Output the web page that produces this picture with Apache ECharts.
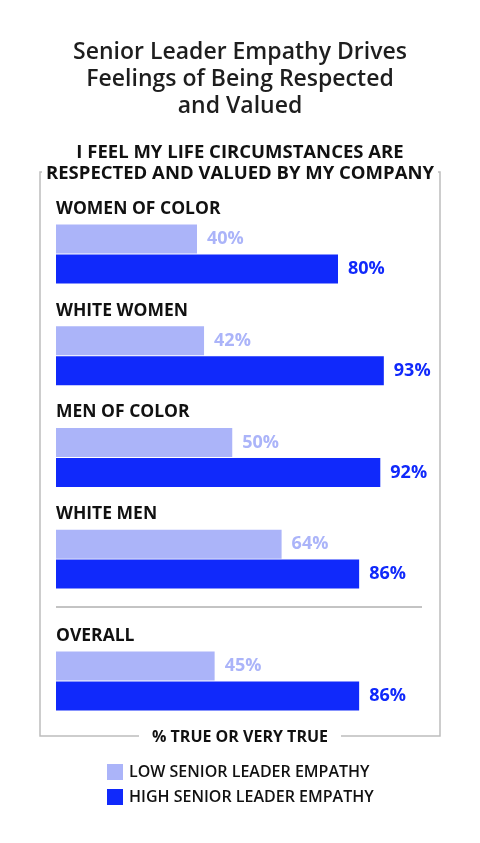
<!DOCTYPE html>
<html>
<head>
<meta charset="utf-8">
<script src="https://cdn.jsdelivr.net/npm/echarts@6/dist/echarts.min.js"></script>
<style>
  html, body { margin: 0; padding: 0; background: #fff; }
  #chart { width: 480px; height: 843px; }
</style>
</head>
<body>
<div id="chart"></div>
<script>
// data
const groups = ["WOMEN OF COLOR", "WHITE WOMEN", "MEN OF COLOR", "WHITE MEN"];
const overallGroup = ["OVERALL"];
const lowEmpathy = [40, 42, 50, 64];
const highEmpathy = [80, 93, 92, 86];
const overallLow = [45];
const overallHigh = [86];
const seriesNames = ["LOW SENIOR LEADER EMPATHY", "HIGH SENIOR LEADER EMPATHY"];

const LIGHT = "#abb4f9";
const DARK = "#1029fb";
const FONT = "Open Sans";

const myChart = echarts.init(document.getElementById("chart"));

const valueLabel = (color) => ({
  show: true,
  position: "right",
  distance: 10,
  formatter: "{c}%",
  color: color,
  fontFamily: FONT,
  fontWeight: "bold",
  fontSize: 18
});

// category name sits above its pair of bars
const catAxis = (data, idx) => ({
  type: "category",
  gridIndex: idx,
  data: data,
  inverse: true,
  axisLine: { show: false },
  axisTick: { show: false },
  axisLabel: {
    inside: true,
    align: "left",
    verticalAlign: "middle",
    margin: 0,
    formatter: (v) => "{a|" + v + "}\n{b|}",
    rich: {
      a: { color: "#111", fontFamily: FONT, fontWeight: "bold", fontSize: 17.5, lineHeight: 16 },
      b: { lineHeight: 90 }
    }
  }
});

const valAxis = (idx) => ({
  type: "value",
  gridIndex: idx,
  min: 0,
  max: 100,
  show: false
});

const option = {
  animation: false,
  title: {
    text: "Senior Leader Empathy Drives\nFeelings of Being Respected\nand Valued",
    left: "center",
    top: 34,
    textStyle: {
      fontFamily: FONT,
      fontSize: 23,
      fontWeight: 600,
      lineHeight: 27,
      color: "#1e1e1e"
    }
  },
  grid: [
    { left: 56, width: 352.5, top: 203.2, height: 406.8 },
    { left: 56, width: 352.5, top: 630.2, height: 101.7 }
  ],
  xAxis: [valAxis(0), valAxis(1)],
  yAxis: [catAxis(groups, 0), catAxis(overallGroup, 1)],
  legend: {
    orient: "vertical",
    left: 102,
    top: 759,
    itemWidth: 16,
    itemHeight: 16,
    itemGap: 9,
    icon: "rect",
    data: seriesNames,
    textStyle: { fontFamily: FONT, fontSize: 16, fontWeight: 600, color: "#111", padding: [0, 0, 0, 1] }
  },
  graphic: [
    {
      type: "rect",
      shape: { x: 40, y: 172, width: 400, height: 564 },
      style: { fill: "none", stroke: "#bdbdbd", lineWidth: 1.5 },
      z: 1
    },
    {
      type: "text",
      x: 240,
      y: 163,
      style: {
        text: "I FEEL MY LIFE CIRCUMSTANCES ARE\nRESPECTED AND VALUED BY MY COMPANY",
        align: "center",
        verticalAlign: "middle",
        fontFamily: FONT,
        fontWeight: "bold",
        fontSize: 18.5,
        lineHeight: 21,
        fill: "#111",
        backgroundColor: "#fff",
        padding: [0, 4]
      },
      z: 5
    },
    {
      type: "line",
      shape: { x1: 56, y1: 607, x2: 422, y2: 607 },
      style: { stroke: "#888", lineWidth: 1 },
      z: 1
    },
    {
      type: "text",
      x: 240,
      y: 737,
      style: {
        text: "% TRUE OR VERY TRUE",
        align: "center",
        verticalAlign: "middle",
        fontFamily: FONT,
        fontWeight: "bold",
        fontSize: 16,
        fill: "#111",
        backgroundColor: "#fff",
        padding: [2, 13]
      },
      z: 5
    }
  ],
  series: [
    {
      name: seriesNames[0], type: "bar", xAxisIndex: 0, yAxisIndex: 0,
      data: lowEmpathy, barWidth: 29, barGap: "3%",
      itemStyle: { color: LIGHT }, label: valueLabel(LIGHT)
    },
    {
      name: seriesNames[1], type: "bar", xAxisIndex: 0, yAxisIndex: 0,
      data: highEmpathy, barWidth: 29, barGap: "3%",
      itemStyle: { color: DARK }, label: valueLabel(DARK)
    },
    {
      name: seriesNames[0], type: "bar", xAxisIndex: 1, yAxisIndex: 1,
      data: overallLow, barWidth: 29, barGap: "3%",
      itemStyle: { color: LIGHT }, label: valueLabel(LIGHT)
    },
    {
      name: seriesNames[1], type: "bar", xAxisIndex: 1, yAxisIndex: 1,
      data: overallHigh, barWidth: 29, barGap: "3%",
      itemStyle: { color: DARK }, label: valueLabel(DARK)
    }
  ]
};

option && myChart.setOption(option);
</script>
</body>
</html>
